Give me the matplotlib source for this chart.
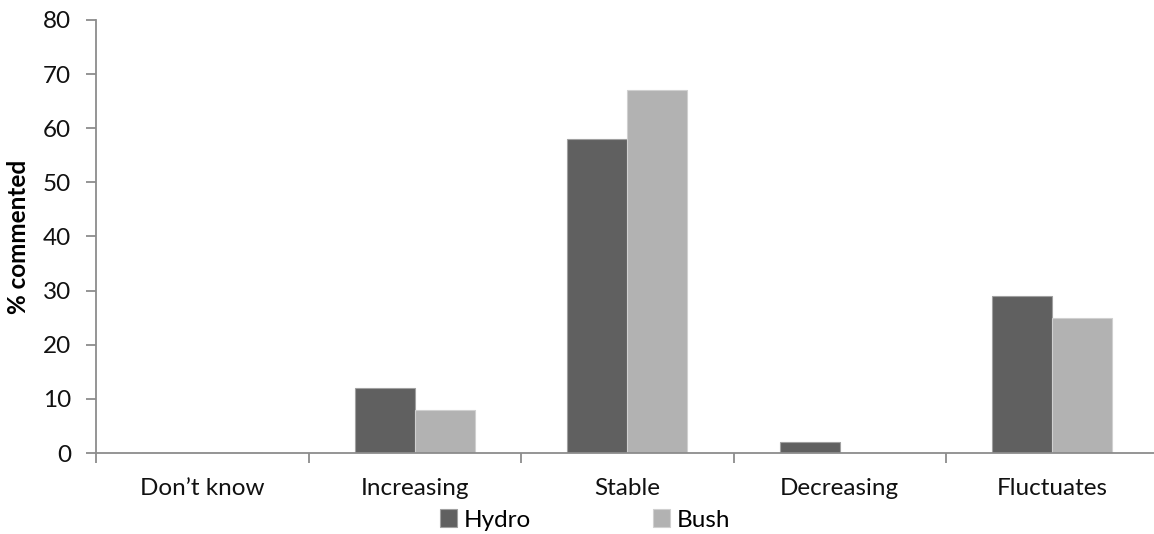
import matplotlib
matplotlib.use("Agg")
import matplotlib.pyplot as plt
import numpy as np

categories = ["Don\u2019t know", "Increasing", "Stable", "Decreasing", "Fluctuates"]
hydro = [0, 12, 58, 2, 29]
bush = [0, 8, 67, 0, 25]
series_names = ["Hydro", "Bush"]
yticks = [0, 10, 20, 30, 40, 50, 60, 70, 80]

plt.rcParams['font.family'] = ['Lato', 'DejaVu Sans']

W, H = 1154, 534
fig = plt.figure(figsize=(W / 100, H / 100), dpi=100)
x0, x1 = 96, 96 + 5 * 212.5
y0, y1 = 453, 20
ax = fig.add_axes([x0 / W, 1 - y0 / H, (x1 - x0) / W, (y0 - y1) / H])

FS = 17.5
x = np.arange(len(categories))
bw = 0.283
ax.bar(x - bw / 2, hydro, bw, color="#606060", edgecolor="#a0a0a0", linewidth=0.8, label=series_names[0], zorder=2)
ax.bar(x + bw / 2, bush, bw, color="#b2b2b2", edgecolor="#d0d0d0", linewidth=0.8, label=series_names[1], zorder=2)

ax.set_xlim(-0.5, len(categories) - 0.5)
ax.set_ylim(0, 80)
ax.set_yticks(yticks)
ax.set_yticklabels([str(v) for v in yticks], fontsize=FS, color="#111111")
ax.set_xticks(x)
ax.set_xticklabels(categories, fontsize=FS, color="#111111")
ax.set_xticks(np.arange(-0.5, len(categories), 1.0), minor=True)
ax.tick_params(axis='x', which='major', length=0, pad=18)
ax.tick_params(axis='x', which='minor', length=7, width=1.3, color="#8c8c8c", direction='out')
ax.tick_params(axis='y', length=7, width=1.3, color="#8c8c8c", direction='out', pad=11)

for s in ['top', 'right']:
    ax.spines[s].set_visible(False)
for s in ['left', 'bottom']:
    ax.spines[s].set_color("#8c8c8c")
    ax.spines[s].set_linewidth(1.3)

ax.set_ylabel("% commented", fontsize=FS, fontweight='bold')
ax.yaxis.set_label_coords(-(96 - 30) / (x1 - x0), 0.5)

leg = fig.legend(loc='center', bbox_to_anchor=(585 / W, 1 - 520 / H), ncol=2, frameon=False,
                 fontsize=FS, handlelength=0.7, handleheight=0.7, handletextpad=0.3,
                 columnspacing=5.0, borderpad=0)

fig.savefig("out.png", dpi=100)
